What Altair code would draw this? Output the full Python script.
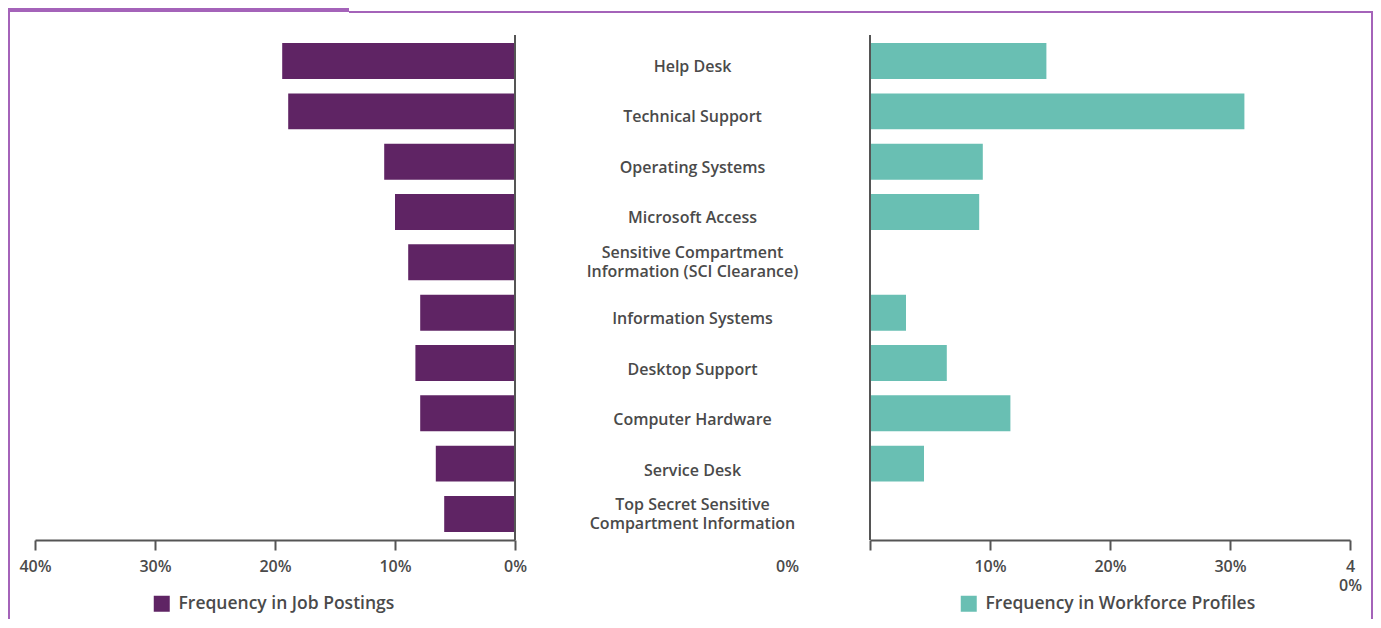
import altair as alt
import pandas as pd

categories = [
    "Help Desk", "Technical Support", "Operating Systems", "Microsoft Access",
    "Sensitive Compartment Information (SCI Clearance)", "Information Systems",
    "Desktop Support", "Computer Hardware", "Service Desk",
    "Top Secret Sensitive Compartment Information",
]
labels = [
    "Help Desk", "Technical Support", "Operating Systems", "Microsoft Access",
    "Sensitive Compartment|Information (SCI Clearance)", "Information Systems",
    "Desktop Support", "Computer Hardware", "Service Desk",
    "Top Secret Sensitive|Compartment Information",
]
job_postings = [19.4, 18.9, 10.9, 10.0, 8.9, 7.9, 8.3, 7.9, 6.6, 5.9]
workforce_profiles = [14.7, 31.2, 9.4, 9.1, 0.0, 3.0, 6.4, 11.7, 4.5, 0.0]
x_ticks = [0, 10, 20, 30, 40]
series_job = "Frequency in Job Postings"
series_wf = "Frequency in Workforce Profiles"

PURPLE = "#5f2464"
TEAL = "#69bfb3"
AXIS = "#555555"
TEXT = "#4a4a4a"
FRAME = "#a463b9"
FONT = "Open Sans"

df = pd.DataFrame({
    "category": categories,
    "label": labels,
    "job": job_postings,
    "workforce": workforce_profiles,
    "s_job": series_job,
    "s_wf": series_wf,
})
one = pd.DataFrame({"zero": [0]})

W, H, MID = 480, 505, 355

yscale = alt.Scale(domain=categories, paddingInner=0.285, paddingOuter=0.16)


def x_axis(label_expr, label_offset=0, label_padding=8):
    return alt.Axis(
        values=x_ticks, labelExpr=label_expr, title=None, grid=False,
        domainColor=AXIS, domainWidth=2, tickColor=AXIS, tickWidth=2,
        tickSize=10, labelPadding=label_padding, labelFontSize=16, labelColor=TEXT,
        labelFont=FONT, labelFontWeight=600, labelLineHeight=19,
        labelOffset=label_offset, labelFlush=False, labelOverlap=False,
    )


def legend(lx):
    return alt.Legend(
        title=None, orient="none", legendX=lx, legendY=560,
        symbolType="square", symbolSize=256, symbolStrokeWidth=0,
        labelFontSize=17.5, labelColor=TEXT, labelFont=FONT, labelFontWeight=600,
        padding=0, labelOffset=8, labelLimit=0,
    )


left_bars = alt.Chart(df).mark_bar().encode(
    y=alt.Y("category:N", sort=categories, scale=yscale, axis=None),
    x=alt.X("job:Q", scale=alt.Scale(domain=[0, 40], reverse=True, nice=False),
            axis=x_axis("datum.value + '%'")),
    color=alt.Color("s_job:N", scale=alt.Scale(domain=[series_job], range=[PURPLE]),
                    legend=legend(118)),
)
left_zero = alt.Chart(one).mark_rule(color=AXIS, strokeWidth=2).encode(
    x=alt.X("zero:Q", scale=alt.Scale(domain=[0, 40], reverse=True, nice=False))
)
left = alt.layer(left_bars, left_zero).properties(width=W, height=H)

text_style = dict(font=FONT, fontSize=16, fontWeight=600, color=TEXT, lineBreak="|",
                  lineHeight=19, align="center", baseline="middle")
single = alt.Chart(df).transform_filter(
    "indexof(datum.label, '|') < 0"
).mark_text(dy=6.5, **text_style).encode(
    y=alt.Y("category:N", sort=categories, scale=yscale, axis=None),
    text="label:N",
)
double = alt.Chart(df).transform_filter(
    "indexof(datum.label, '|') >= 0"
).mark_text(dy=-9.5, **text_style).encode(
    y=alt.Y("category:N", sort=categories, scale=yscale, axis=None),
    text="label:N",
)

# decorative page frame (pixel offsets relative to the middle panel)
frame_style = dict(color=FRAME, strokeWidth=0)
frame_left = alt.Chart(one).mark_rect(**frame_style).encode(
    x=alt.value(-507), x2=alt.value(-505), y=alt.value(-27), y2=alt.value(584))
frame_right = alt.Chart(one).mark_rect(**frame_style).encode(
    x=alt.value(856), x2=alt.value(858), y=alt.value(-24), y2=alt.value(584))
frame_top_thick = alt.Chart(one).mark_rect(**frame_style).encode(
    x=alt.value(-507), x2=alt.value(-166), y=alt.value(-27), y2=alt.value(-23))
frame_top_thin = alt.Chart(one).mark_rect(**frame_style).encode(
    x=alt.value(-166), x2=alt.value(858), y=alt.value(-24), y2=alt.value(-22))

middle = alt.layer(
    frame_left, frame_right, frame_top_thick, frame_top_thin, single, double
).properties(width=MID, height=H)

right_bars = alt.Chart(df).mark_bar().encode(
    y=alt.Y("category:N", sort=categories, scale=yscale, axis=None),
    x=alt.X("workforce:Q", scale=alt.Scale(domain=[0, 40], nice=False),
            axis=x_axis("datum.value == 40 ? ['4', '0%'] : datum.value + '%'",
                        {"condition": {"test": "datum.value === 0", "value": -83},
                         "value": 0},
                        {"condition": {"test": "datum.value === 40", "value": 8.5},
                         "value": 8})),
    color=alt.Color("s_wf:N", scale=alt.Scale(domain=[series_wf], range=[TEAL]),
                    legend=legend(90)),
)
right_zero = alt.Chart(one).mark_rule(color=AXIS, strokeWidth=2).encode(
    x=alt.X("zero:Q", scale=alt.Scale(domain=[0, 40], nice=False))
)
right = alt.layer(right_bars, right_zero).properties(width=W, height=H)

chart = alt.hconcat(left, middle, right, spacing=0, bounds="flush").resolve_scale(
    color="independent"
).properties(
    padding={"left": 0, "top": 0, "right": 0, "bottom": 0},
    background="white",
).configure_view(stroke=None)

chart.save("out.html", embed_options={"renderer": "svg", "actions": False})
